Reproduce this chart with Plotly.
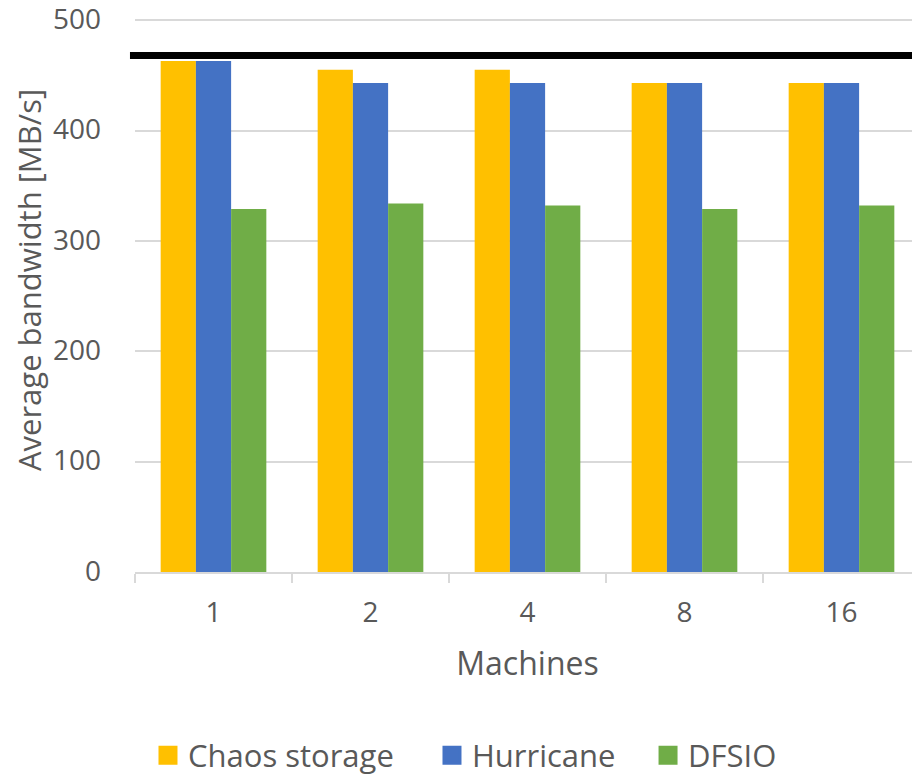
import plotly.graph_objects as go

machines = ["1", "2", "4", "8", "16"]
chaos = [463, 455, 455, 443, 443]
hurricane = [463, 443, 443, 443, 443]
dfsio = [329, 334, 332, 329, 332]
limit_value = 468

series_names = ["Chaos storage", "Hurricane", "DFSIO"]
colors = ["#FFC000", "#4472C4", "#70AD47"]

FONT = "Open Sans"
GRAY = "#595959"

fig = go.Figure()
for name, vals, col in zip(series_names, [chaos, hurricane, dfsio], colors):
    fig.add_trace(go.Bar(x=machines, y=vals, name=name, showlegend=False,
                         marker=dict(color=col, line=dict(width=0))))

# legend entries (one legend box per entry to mimic spacing)
legend_ids = ["legend", "legend2", "legend3"]
legend_x = [0.1535, 0.4649, 0.7018]
legend_w = [270, 200, 130]
for name, col, lid in zip(series_names, colors, legend_ids):
    fig.add_trace(go.Scatter(x=[None], y=[None], mode="markers", name=name, legend=lid,
                             marker=dict(symbol="square", size=16, color=col,
                                         line=dict(color=col, width=3))))

fig.add_shape(type="line", xref="paper", yref="y", x0=-0.0064, x1=1, y0=limit_value, y1=limit_value,
              line=dict(color="black", width=7))

fig.add_annotation(text="Average bandwidth [MB/s]", xref="paper", yref="paper",
                   x=-0.135, y=0.527, xanchor="center", yanchor="middle",
                   textangle=-90, showarrow=False,
                   font=dict(size=31, color=GRAY, family=FONT))

legend_common = dict(orientation="h", xref="container", yref="container", xanchor="left",
                     y=0.029, yanchor="middle", font=dict(size=31, color=GRAY, family=FONT),
                     itemwidth=30, itemsizing="trace", bgcolor="rgba(0,0,0,0)")

fig.update_layout(
    width=912, height=770,
    margin=dict(l=127, r=0, t=10, b=206, autoexpand=False),
    plot_bgcolor="white", paper_bgcolor="white",
    barmode="group", bargap=0.327, bargroupgap=0,
    font=dict(family=FONT, color=GRAY, size=26),
    xaxis=dict(
        title=dict(text="Machines", font=dict(size=32, color=GRAY), standoff=24),
        tickfont=dict(size=28, color=GRAY),
        showline=True, linecolor="#D9D9D9", linewidth=2,
        ticks="outside", tickson="boundaries", ticklen=9, tickcolor="#D9D9D9", tickwidth=2,
        ticklabelstandoff=14,
        showgrid=False, automargin=False,
    ),
    yaxis=dict(
        range=[0, 502], tickvals=[0, 100, 200, 300, 400, 500],
        tickfont=dict(size=28, color=GRAY), ticklabeloverflow="allow", ticklabelshift=-1,
        showgrid=True, gridcolor="#D9D9D9", gridwidth=2,
        zeroline=False, showline=False, ticks="", ticklabelstandoff=33, automargin=False,
    ),
    legend=dict(x=legend_x[0], entrywidth=legend_w[0], **legend_common),
    legend2=dict(x=legend_x[1], entrywidth=legend_w[1], **legend_common),
    legend3=dict(x=legend_x[2], entrywidth=legend_w[2], **legend_common),
)

fig.write_html("out.html")
